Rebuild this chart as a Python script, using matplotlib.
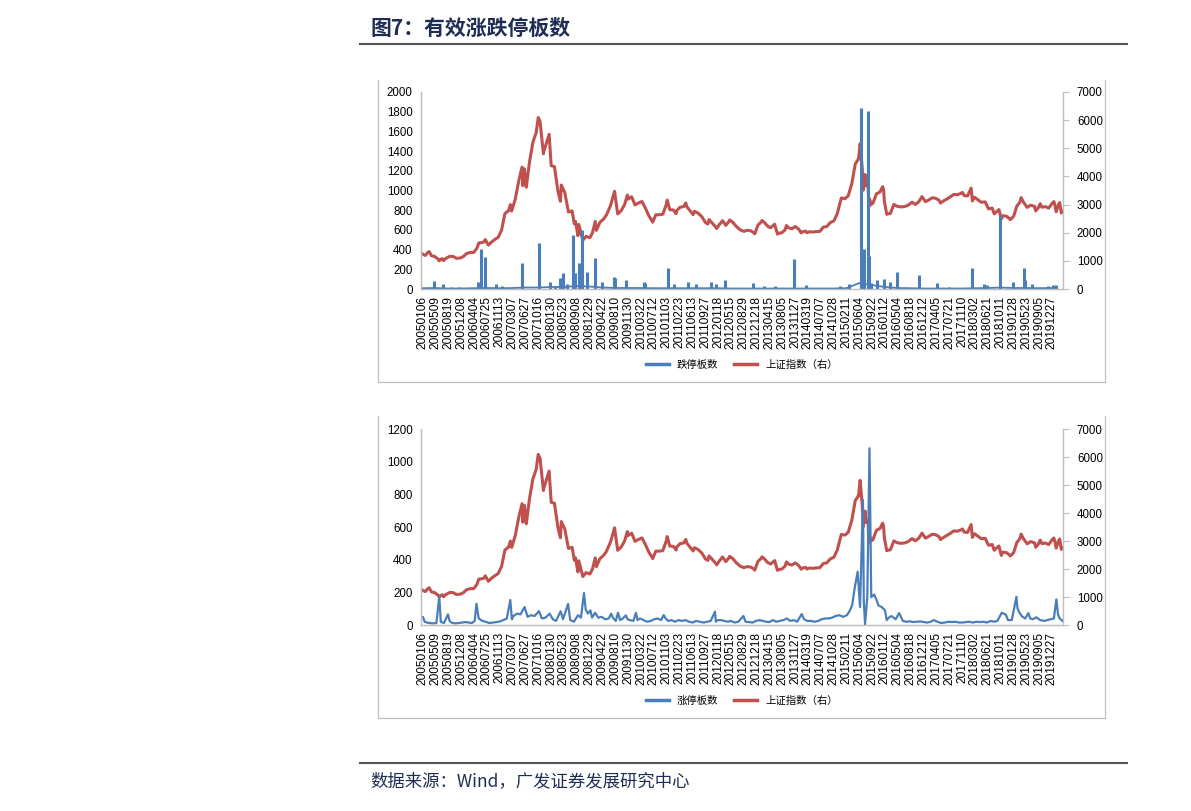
import numpy as np
import pandas as pd
import matplotlib
matplotlib.use("Agg")
import matplotlib.pyplot as plt
from matplotlib.lines import Line2D

plt.rcParams['font.family'] = ['Liberation Sans', 'Noto Sans CJK SC', 'DejaVu Sans']

BLUE = '#4A7EBB'
RED = '#C0504D'
GRID = '#BFBFBF'
NAVY = '#1F2D54'

# category labels on the x axis (one every ~76 trading days)
tick_labels = [
    "20050106", "20050509", "20050819", "20051208", "20060404", "20060725", "20061113",
    "20070307", "20070627", "20071016", "20080130", "20080523", "20080908", "20081229",
    "20090422", "20090810", "20091130", "20100322", "20100712", "20101103", "20110223",
    "20110613", "20110927", "20120118", "20120515", "20120829", "20121218", "20130415",
    "20130805", "20131127", "20140319", "20140707", "20141028", "20150211", "20150604",
    "20150922", "20160112", "20160504", "20160818", "20161212", "20170405", "20170721",
    "20171110", "20180302", "20180621", "20181011", "20190128", "20190523", "20190905",
    "20191227",
]

# Shanghai composite (right axis)
sh_dates = [
    "20050106", "20050131", "20050225", "20050309", "20050331", "20050429", "20050531", "20050606",
    "20050630", "20050711", "20050729", "20050831", "20050930", "20051028", "20051130", "20051230",
    "20060125", "20060228", "20060331", "20060428", "20060516", "20060531", "20060630", "20060711",
    "20060731", "20060807", "20060831", "20060929", "20061031", "20061130", "20061229",
    "20070131", "20070216", "20070227", "20070330", "20070430", "20070529", "20070604", "20070619",
    "20070629", "20070705", "20070731", "20070831", "20070928", "20071016", "20071031", "20071128",
    "20071130", "20071228",
    "20080114", "20080131", "20080229", "20080331", "20080422", "20080430", "20080530", "20080630",
    "20080731", "20080818", "20080829", "20080918", "20080926", "20081028", "20081031", "20081128",
    "20081231",
    "20090123", "20090217", "20090227", "20090331", "20090430", "20090527", "20090630", "20090804",
    "20090831", "20090930", "20091030", "20091124", "20091130", "20091231",
    "20100129", "20100226", "20100331", "20100430", "20100531", "20100630", "20100702", "20100730",
    "20100831", "20100930", "20101029", "20101108", "20101130", "20101231",
    "20110125", "20110131", "20110228", "20110331", "20110418", "20110429", "20110531", "20110620",
    "20110630", "20110729", "20110831", "20110930", "20111021", "20111031", "20111130", "20111230",
    "20120106", "20120131", "20120229", "20120330", "20120427", "20120504", "20120531", "20120629",
    "20120731", "20120831", "20120928", "20121031", "20121130", "20121203", "20121231",
    "20130131", "20130206", "20130228", "20130329", "20130426", "20130531", "20130625", "20130628",
    "20130731", "20130830", "20130912", "20130930", "20131031", "20131129", "20131231",
    "20140120", "20140130", "20140228", "20140310", "20140331", "20140430", "20140530", "20140630",
    "20140731", "20140829", "20140930", "20141031", "20141128", "20141231",
    "20150130", "20150227", "20150331", "20150430", "20150528", "20150529", "20150612", "20150630",
    "20150708", "20150724", "20150731", "20150818", "20150826", "20150831", "20150915", "20150930",
    "20151030", "20151130", "20151223", "20151231",
    "20160107", "20160128", "20160229", "20160331", "20160429", "20160531", "20160630", "20160729",
    "20160831", "20160930", "20161031", "20161129", "20161230",
    "20170126", "20170228", "20170331", "20170428", "20170510", "20170531", "20170630", "20170731",
    "20170831", "20170929", "20171031", "20171114", "20171130", "20171229",
    "20180129", "20180209", "20180228", "20180330", "20180427", "20180531", "20180629", "20180731",
    "20180817", "20180831", "20180928", "20181018", "20181031", "20181130", "20181228",
    "20190103", "20190131", "20190228", "20190329", "20190408", "20190430", "20190531", "20190628",
    "20190731", "20190809", "20190830", "20190916", "20190930", "20191031", "20191129", "20191231",
    "20200114", "20200123", "20200203", "20200225", "20200305", "20200319", "20200331",
]
sh_vals = [
    1240, 1191, 1306, 1330, 1181, 1159, 1060, 1000, 1081, 1011, 1083, 1162, 1155, 1092, 1099, 1161,
    1258, 1299, 1298, 1440, 1640, 1641, 1672, 1757, 1612, 1560, 1658, 1753, 1837, 2099, 2675,
    2786, 2998, 2771, 3183, 3841, 4334, 3670, 4269, 3820, 3615, 4471, 5218, 5552, 6092, 5954, 4803,
    4871, 5262,
    5497, 4383, 4348, 3473, 3116, 3693, 3433, 2736, 2775, 2319, 2397, 1895, 2293, 1771, 1729, 1871,
    1821,
    1991, 2400, 2082, 2373, 2477, 2633, 2959, 3471, 2667, 2779, 2996, 3338, 3195, 3277,
    2989, 3051, 3110, 2871, 2592, 2398, 2373, 2638, 2639, 2656, 2979, 3159, 2820, 2808,
    2677, 2791, 2905, 2928, 3057, 2911, 2743, 2642, 2762, 2701, 2568, 2359, 2307, 2468, 2333, 2199,
    2149, 2292, 2428, 2262, 2397, 2452, 2372, 2225, 2103, 2047, 2086, 2069, 1980, 1959, 2269,
    2385, 2434, 2365, 2236, 2178, 2301, 1950, 1979, 1994, 2098, 2255, 2175, 2141, 2220, 2116,
    1991, 2033, 2056, 1999, 2033, 2026, 2039, 2048, 2201, 2217, 2364, 2420, 2683, 3235,
    3210, 3310, 3748, 4441, 4620, 4612, 5166, 4277, 3507, 4070, 3664, 3749, 2927, 3206, 3005, 3053,
    3383, 3445, 3636, 3539,
    3125, 2656, 2688, 3004, 2938, 2917, 2930, 2979, 3085, 3005, 3100, 3282, 3104,
    3159, 3242, 3223, 3155, 3052, 3117, 3192, 3273, 3361, 3349, 3393, 3430, 3317, 3307,
    3587, 3129, 3259, 3169, 3082, 3095, 2847, 2876, 2669, 2725, 2821, 2486, 2603, 2588, 2494,
    2464, 2585, 2941, 3091, 3247, 3078, 2899, 2979, 2933, 2775, 2886, 3031, 2905, 2929, 2872, 3050,
    3107, 2977, 2746, 3013, 3071, 2702, 2750,
]

# effective limit-down counts: spike days
down_dates = [
    "20050428", "20050707", "20050915", "20051120", "20060509", "20060607", "20060713", "20061014",
    "20061201", "20070530", "20071022", "20080122", "20080301", "20080415", "20080514", "20080620",
    "20080808", "20080826", "20080924", "20081020", "20081209", "20090217", "20090417", "20090729",
    "20090812", "20091114", "20100419", "20100427", "20101112", "20110106", "20110507", "20110716",
    "20111120", "20111229", "20120319", "20121115", "20130301", "20130605", "20131122", "20140302",
    "20141220", "20150306", "20150619", "20150715", "20150818", "20150826", "20150915", "20151104",
    "20160107", "20160222", "20160501", "20161029", "20170410", "20170720", "20180209", "20180523",
    "20180615", "20181011", "20190123", "20190506", "20190515", "20190707", "20190915", "20191120",
    "20200110", "20200203",
]
down_vals = [
    81, 51, 25, 20, 70, 406, 328, 50,
    35, 261, 470, 68, 35, 110, 160, 50,
    550, 165, 260, 600, 176, 312, 68, 120,
    115, 90, 75, 65, 210, 50, 75, 50,
    70, 50, 90, 64, 30, 30, 305, 44,
    34, 51, 1840, 410, 1805, 340, 58, 91,
    98, 68, 176, 142, 57, 20, 210, 51,
    40, 751, 74, 210, 90, 51, 25, 35,
    45, 40,
]
# background level of limit-down counts, read at each category label
down_base = [
    8, 10, 5, 5, 8, 10, 8, 10, 15, 15, 20, 20, 30, 25, 15, 10, 10, 10, 8, 8,
    8, 8, 8, 8, 5, 5, 5, 5, 5, 5, 5, 5, 5, 8, 60, 40, 20, 10, 8, 5,
    5, 5, 5, 8, 10, 15, 10, 10, 8, 10,
]

# effective limit-up counts
up_dates = [
    "20050110", "20050125", "20050215", "20050315", "20050415", "20050516", "20050608", "20050620",
    "20050715", "20050816", "20050830", "20050915", "20051014", "20051115", "20051215",
    "20060116", "20060215", "20060315", "20060410", "20060425", "20060515", "20060615", "20060714",
    "20060815", "20060915", "20061016", "20061115", "20061215",
    "20070115", "20070215", "20070301", "20070315", "20070416", "20070515", "20070620", "20070716",
    "20070815", "20070914", "20071022", "20071115", "20071214",
    "20080118", "20080215", "20080314", "20080424", "20080515", "20080627", "20080715", "20080815",
    "20080919", "20081015", "20081110", "20081125", "20081215",
    "20090105", "20090120", "20090216", "20090316", "20090415", "20090515", "20090615", "20090706",
    "20090720", "20090814", "20090903", "20090921", "20091015", "20091111", "20091125", "20091215",
    "20100115", "20100206", "20100220", "20100315", "20100415", "20100514", "20100615", "20100715",
    "20100816", "20100915", "20101008", "20101020", "20101115", "20101215",
    "20110114", "20110215", "20110315", "20110415", "20110516", "20110615", "20110715", "20110815",
    "20110915", "20111014", "20111115", "20111223", "20111230",
    "20120116", "20120215", "20120315", "20120416", "20120515", "20120615", "20120716", "20120827",
    "20120914", "20121015", "20121115", "20121214",
    "20130115", "20130215", "20130315", "20130415", "20130515", "20130614", "20130715", "20130815",
    "20130916", "20131015", "20131115", "20131216",
    "20140124", "20140214", "20140314", "20140415", "20140515", "20140616", "20140715", "20140815",
    "20140915", "20141015", "20141114", "20141215",
    "20150115", "20150216", "20150316", "20150403", "20150427", "20150521", "20150611", "20150706",
    "20150713", "20150724", "20150812", "20150831", "20150915", "20151010", "20151102", "20151116",
    "20151215",
    "20160112", "20160128", "20160215", "20160310", "20160415", "20160516", "20160615", "20160715",
    "20160815", "20160914", "20161014", "20161115", "20161215",
    "20170116", "20170215", "20170315", "20170414", "20170515", "20170615", "20170714", "20170815",
    "20170915", "20171016", "20171115", "20171215",
    "20180115", "20180214", "20180315", "20180416", "20180515", "20180615", "20180716", "20180815",
    "20180914", "20181022", "20181126", "20181214",
    "20190115", "20190225", "20190306", "20190320", "20190415", "20190515", "20190610", "20190625",
    "20190715", "20190814", "20190916", "20191028", "20191115", "20191216",
    "20200114", "20200205", "20200220", "20200305", "20200331",
]
up_vals = [
    47, 20, 15, 12, 10, 12, 173, 20, 12, 65, 25, 15, 10, 12, 15,
    18, 15, 12, 25, 130, 40, 25, 20, 12, 15, 18, 22, 30,
    40, 153, 35, 55, 70, 65, 110, 50, 60, 55, 85, 40, 45,
    69, 35, 25, 84, 35, 129, 30, 20, 60, 45, 196, 95, 70,
    90, 45, 75, 45, 50, 35, 40, 69, 45, 25, 75, 30, 40, 59, 35, 30,
    25, 75, 30, 40, 30, 20, 25, 35, 40, 30, 61, 45, 25, 30,
    20, 30, 25, 30, 20, 15, 25, 20, 15, 20, 25, 82, 20,
    30, 30, 25, 20, 25, 15, 20, 55, 20, 18, 15, 25,
    30, 25, 20, 18, 30, 20, 25, 30, 40, 25, 30, 20,
    67, 35, 25, 25, 20, 25, 35, 40, 40, 45, 55, 60,
    50, 60, 92, 122, 235, 326, 110, 765, 150, 5, 170, 1082, 170, 187, 150, 120, 110,
    90, 30, 45, 55, 35, 73, 25, 20, 22, 18, 20, 22, 18,
    15, 20, 30, 20, 12, 15, 20, 18, 20, 15, 15, 18,
    20, 15, 20, 18, 20, 15, 25, 20, 25, 75, 63, 30,
    30, 173, 104, 80, 53, 40, 73, 40, 35, 47, 30, 25, 30, 35,
    40, 157, 63, 40, 25,
]


def to_pos(dates):
    """Map dates onto the category axis (tick k sits at position k)."""
    t = pd.to_datetime(pd.Series(tick_labels), format="%Y%m%d").values.astype("datetime64[D]").astype(float)
    d = pd.to_datetime(pd.Series(dates), format="%Y%m%d").values.astype("datetime64[D]").astype(float)
    p = np.interp(d, t, np.arange(len(t)))
    late = d > t[-1]
    p[late] = len(t) - 1 + (d[late] - t[-1]) / (t[-1] - t[-2])
    return p


W, H = 1191, 811
fig = plt.figure(figsize=(W / 100, H / 100), dpi=100)


def fx(x):
    return x / W


def fy(y):
    return 1 - y / H


def style_axes(ax, axr, ymax, ystep):
    ax.set_xlim(-0.13, 49.87)
    ax.set_ylim(0, ymax)
    ax.set_yticks(np.arange(0, ymax + 1, ystep))
    axr.set_ylim(0, 7000)
    axr.set_yticks(np.arange(0, 7001, 1000))
    for a in (ax, axr):
        a.spines['top'].set_visible(False)
        for s in ('left', 'right', 'bottom'):
            a.spines[s].set_color(GRID)
            a.spines[s].set_linewidth(0.9)
        a.tick_params(axis='y', labelsize=8.3, colors='#000000', pad=6)
    ax.tick_params(axis='y', length=0)
    axr.tick_params(axis='y', length=4, color=GRID, pad=6)
    ax.set_xticks(np.arange(len(tick_labels)))
    ax.set_xticklabels(tick_labels, rotation=90, fontsize=8.6)
    ax.tick_params(axis='x', length=0, pad=5)
    ax.set_zorder(axr.get_zorder() + 1)
    ax.patch.set_visible(False)


def frame(y0, y1):
    for xs, ys in (([378, 378], [y0, y1]), ([378, 1105], [y1, y1]), ([1105, 1105], [y0, y1])):
        fig.add_artist(Line2D([fx(v) for v in xs], [fy(v) for v in ys], color=GRID, lw=0.9))


sh_pos = to_pos(sh_dates)

# top panel: limit-down counts
ax1 = fig.add_axes([fx(421), fy(289), fx(642), 197 / H])
ax1r = ax1.twinx()
ax1r.plot(sh_pos, sh_vals, color=RED, lw=2.2)
ax1.plot(np.arange(len(down_base)), down_base, color=BLUE, lw=1.3)
ax1.vlines(to_pos(down_dates), 0, down_vals, color=BLUE, lw=2.2)
style_axes(ax1, ax1r, 2000, 200)
frame(80, 382)
h1 = [Line2D([], [], color=BLUE, lw=2.5), Line2D([], [], color=RED, lw=2.5)]
fig.legend(h1, ['跌停板数', '上证指数（右）'], loc='center', bbox_to_anchor=(fx(742), fy(365)),
           ncol=2, frameon=False, handlelength=2.2, columnspacing=1.5,
           prop={'family': ['Noto Sans CJK SC'], 'size': 7.5})

# bottom panel: limit-up counts
ax2 = fig.add_axes([fx(421), fy(625), fx(642), 196 / H])
ax2r = ax2.twinx()
ax2r.plot(sh_pos, sh_vals, color=RED, lw=2.2)
ax2.plot(to_pos(up_dates), up_vals, color=BLUE, lw=1.6)
style_axes(ax2, ax2r, 1200, 200)
frame(416, 718)
h2 = [Line2D([], [], color=BLUE, lw=2.5), Line2D([], [], color=RED, lw=2.5)]
fig.legend(h2, ['涨停板数', '上证指数（右）'], loc='center', bbox_to_anchor=(fx(742), fy(701)),
           ncol=2, frameon=False, handlelength=2.2, columnspacing=1.5,
           prop={'family': ['Noto Sans CJK SC'], 'size': 7.5})

# title, rules and source
fig.text(fx(370), fy(28), '图7：有效涨跌停板数', fontsize=15, fontweight='bold', color=NAVY,
         va='center', ha='left', family=['Noto Sans CJK SC'])
fig.add_artist(Line2D([fx(360), fx(1127)], [fy(44), fy(44)], color='#555555', lw=1.5))
fig.add_artist(Line2D([fx(360), fx(1127)], [fy(763), fy(763)], color='#555555', lw=1.5))
fig.text(fx(370), fy(781), '数据来源：Wind，广发证券发展研究中心', fontsize=12.5, color=NAVY,
         va='center', ha='left', family=['Noto Sans CJK SC', 'Liberation Sans'])

fig.savefig('out.png', dpi=100)
